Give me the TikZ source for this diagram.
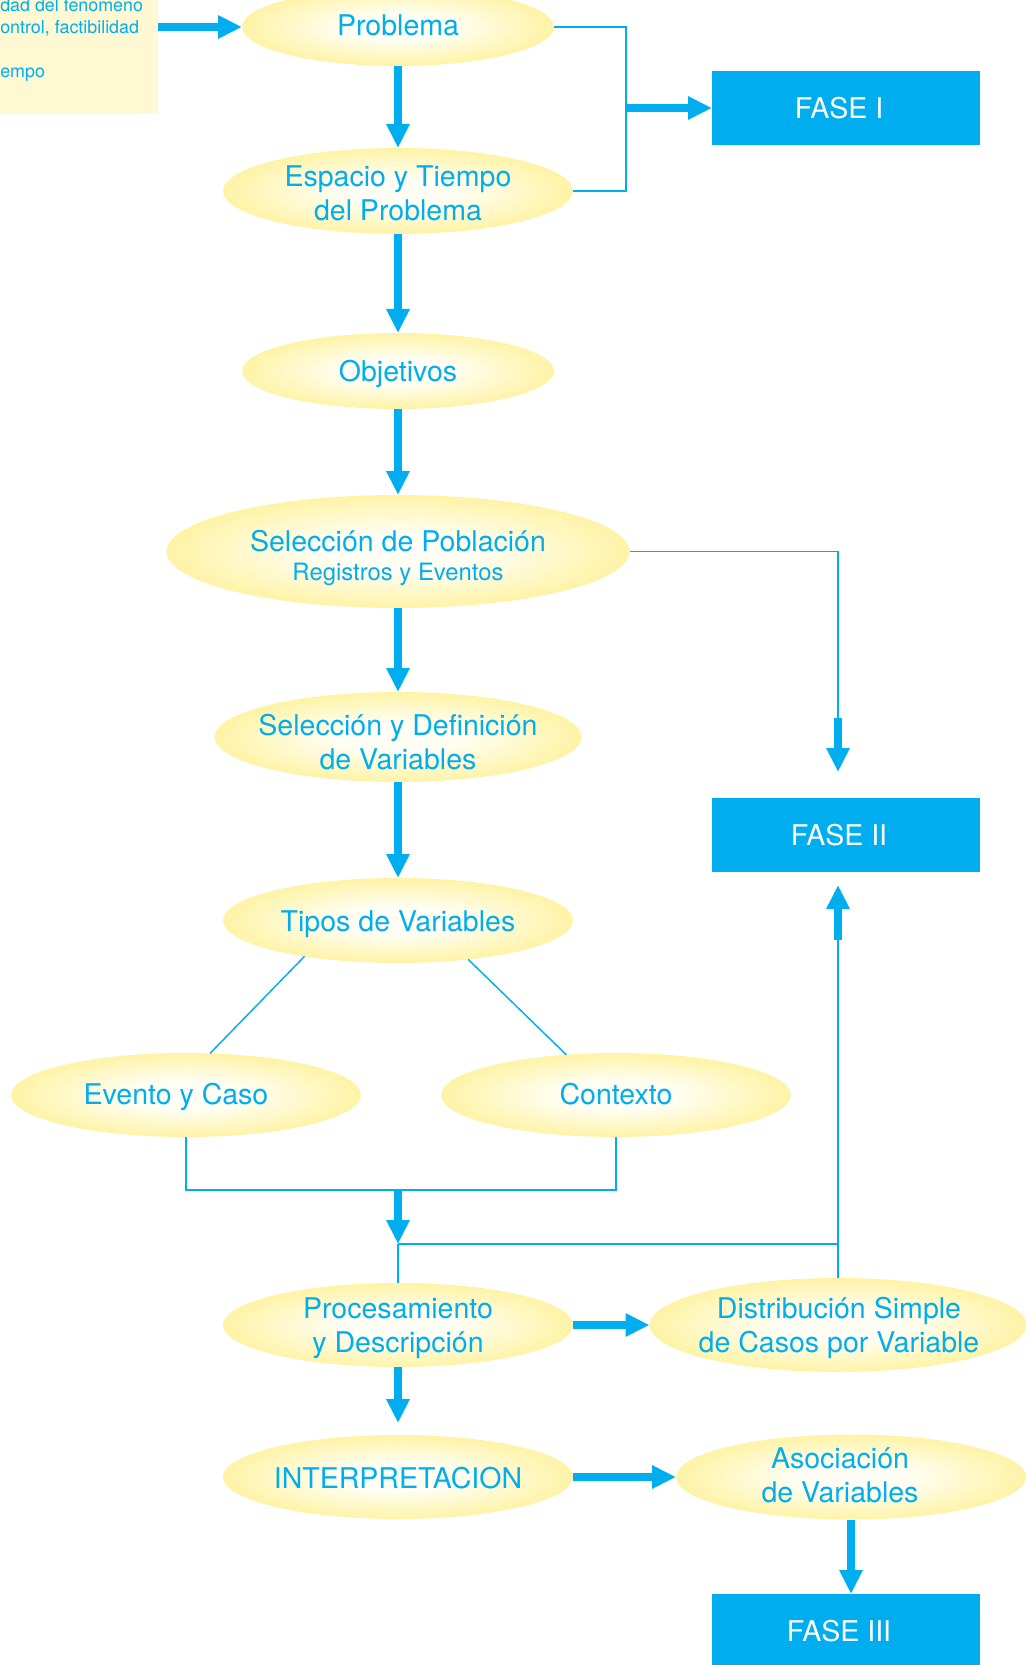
\documentclass[tikz,border=0pt]{standalone}
\usepackage{fontspec}
\setmainfont{TeX Gyre Heros}
\usetikzlibrary{shapes.geometric,arrows.meta,calc}
\definecolor{cy}{HTML}{00AEEF}
\definecolor{yin}{HTML}{FFFEF4}
\definecolor{yout}{HTML}{FFF3A6}
\definecolor{boxy}{HTML}{FFF9D3}
\pgfdeclareradialshading{ellshade}{\pgfpointorigin}{color(0bp)=(yin); color(8bp)=(yin); color(25bp)=(yout); color(50bp)=(yout)}
\begin{document}
\begin{tikzpicture}[x=0.75pt,y=-0.75pt,
  ov/.style n args={2}{ellipse, inner sep=0pt, outer sep=0pt,
     minimum width=#1*0.75pt, minimum height=#2*0.75pt, shading=ellshade},
  lbl/.style={inner sep=0pt, text=cy, align=center,
     font=\fontsize{21.4pt}{25.5pt}\selectfont},
  fasebox/.style={rectangle, fill=cy, inner sep=0pt, outer sep=0pt,
     minimum width=268*0.75pt, minimum height=74*0.75pt},
  faselbl/.style={inner sep=0pt, text=white, font=\fontsize{21.4pt}{25.5pt}\selectfont},
  conn/.style={draw=cy, line width=1.1pt},
  bigarrow/.style={draw=cy, line width=5.6pt, -{Triangle[width=16.5pt,length=18pt]}},
  smalltxt/.style={anchor=base west, inner sep=0pt, text=cy,
     font=\fontsize{13.4pt}{16.5pt}\selectfont},
  ]
\useasboundingbox (0,0) rectangle (1034,1665);
\clip (0,0) rectangle (1034,1665);

% criteria box (clipped at the left)
\node[fill=boxy, inner sep=0pt, outer sep=0pt, minimum width=178*0.75pt,
      minimum height=134*0.75pt, anchor=south east] (crit) at (158,114) {};
\node[smalltxt] (c1) at (0,12) {dad del fenomeno};
\node[smalltxt] (c2) at (0,34) {ontrol, factibilidad};
\node[smalltxt] (c3) at (0,78) {empo};

% main ellipses
\node[ov={312}{78}] (prob) at (398,27) {};
\node[ov={350}{86}] (esp) at (398,191) {};
\node[ov={312}{76}] (obj) at (398,371) {};
\node[ov={463}{113}] (pob) at (398,551.5) {};
\node[ov={367}{90}] (def) at (398,737) {};
\node[ov={350}{85}] (tipos) at (398,920.5) {};
\node[ov={350}{84}] (evento) at (186,1095) {};
\node[ov={350}{84}] (contexto) at (616,1095) {};
\node[ov={350}{84}] (proc) at (398,1325) {};
\node[ov={377}{94}] (dist) at (838,1325) {};
\node[ov={350}{84}] (interp) at (398,1477) {};
\node[ov={350}{85}] (asoc) at (851,1477) {};

% ellipse texts
\node[lbl] (probT) at (398,25) {Problema};
\node[lbl] (espT) at (398,193) {Espacio y Tiempo\\del Problema};
\node[lbl] (objT) at (398,374) {Objetivos};
\node[lbl, anchor=base] (pobT) at (398,551) {Selección de Población};
\node[lbl, anchor=base, font=\fontsize{17.9pt}{21pt}\selectfont] (pobS) at (398,580) {Registros y Eventos};
\node[lbl] (defT) at (398,742) {Selección y Definición\\de Variables};
\node[lbl] (tiposT) at (398,924) {Tipos de Variables};
\node[lbl] (eventoT) at (176,1097) {Evento y Caso};
\node[lbl] (contextoT) at (616,1094) {Contexto};
\node[lbl] (procT) at (398,1328) {Procesamiento\\y Descripción};
\node[lbl] (distT) at (839,1328) {Distribución Simple\\de Casos por Variable};
\node[lbl] (interpT) at (398,1478) {INTERPRETACION};
\node[lbl] (asocT) at (840,1475) {Asociación\\de Variables};

% phase boxes
\node[fasebox] (fase1) at (846,108) {};
\node[fasebox] (fase2) at (846,835) {};
\node[fasebox] (fase3) at (846,1631) {};
\node[faselbl] (fase1T) at (839,108) {FASE I};
\node[faselbl] (fase2T) at (839,835) {FASE II};
\node[faselbl] (fase3T) at (839,1631) {FASE III};

% coordinates for junctions
\coordinate (j1) at (626,108);
\coordinate (k1) at (838,718);
\coordinate (k2) at (838,772);
\coordinate (m1) at (838,940);
\coordinate (m2) at (838,885);
\coordinate (jb) at (398,1190);
\coordinate (jc) at (398,1244);

% connectors
\draw[bigarrow] (crit.east |- prob.west) -- (prob.west);
\draw[conn] (prob.east) -| ($(esp.east)+(53,0)$) -- (esp.east);
\draw[bigarrow] (j1) -- (fase1.west);

\draw[bigarrow] (prob.south) -- (esp.north);
\draw[bigarrow] (esp.south) -- (obj.north);
\draw[bigarrow] (obj.south) -- (pob.north);
\draw[bigarrow] (pob.south) -- (def.north);
\draw[bigarrow] (def.south) -- (tipos.north);

\draw[conn] (pob.east) -| (k1);
\draw[bigarrow] (k1) -- (k2);

\draw[conn] (tipos.201) -- (evento.60);
\draw[conn] (tipos.331) -- (contexto.141);

\draw[conn] (evento.south) |- (jb) -| (contexto.south);
\draw[bigarrow] (jb) -- (jc);
\draw[conn] (jc) -- (proc.north);
\draw[conn] (jc) -- (jc -| dist.north);
\draw[conn] (dist.north) -- (m1);
\draw[bigarrow] (m1) -- (m2);

\draw[bigarrow] (proc.east) -- (dist.west);
\draw[bigarrow, shorten >=9pt] (proc.south) -- (interp.north);
\draw[bigarrow] (interp.east) -- (asoc.west);
\draw[bigarrow] (asoc.south) -- (asoc.south |- fase3.north);
\end{tikzpicture}
\end{document}
